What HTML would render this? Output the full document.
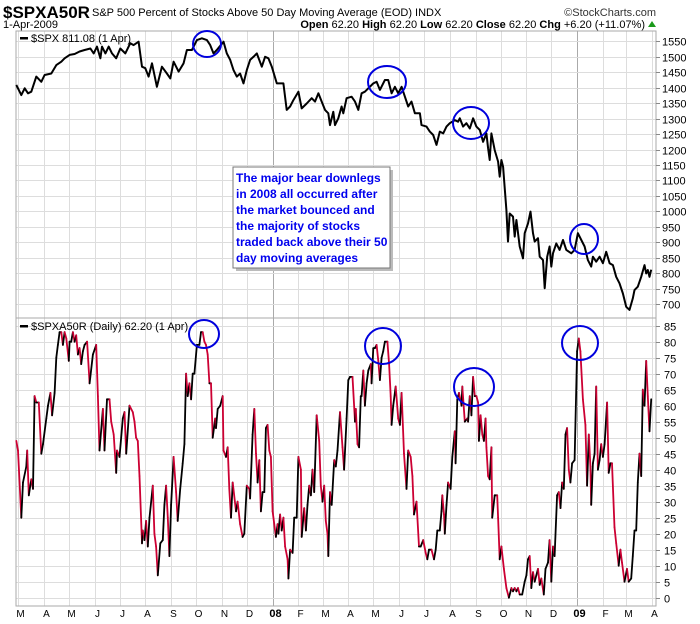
<!DOCTYPE html>
<html><head><meta charset="utf-8"><style>
body{margin:0;background:#fff;}
svg{display:block;font-family:"Liberation Sans",sans-serif;}
</style></head><body>
<svg id="chart" width="700" height="624" viewBox="0 0 700 624">
<text x="3" y="18" font-size="17" font-weight="bold">$SPXA50R</text>
<text x="92" y="16" font-size="11">S&amp;P 500 Percent of Stocks Above 50 Day Moving Average (EOD)  INDX</text>
<text x="656" y="16" font-size="11" text-anchor="end" fill="#333">©StockCharts.com</text>
<text x="3" y="28" font-size="11">1-Apr-2009</text>
<text x="645" y="28" font-size="11" text-anchor="end"><tspan font-weight="bold">Open</tspan> 62.20 <tspan font-weight="bold">High</tspan> 62.20 <tspan font-weight="bold">Low</tspan> 62.20 <tspan font-weight="bold">Close</tspan> 62.20 <tspan font-weight="bold">Chg</tspan> +6.20 (+11.07%)</text>
<polygon points="648,27 656,27 652,21" fill="#1a9a1a"/>
<g id="grid"></g>
<rect x="16" y="31" width="640" height="287" fill="none" stroke="#aaa"/>
<rect x="16" y="318" width="640" height="288" fill="none" stroke="#aaa"/>
<g id="marks"></g>
<g id="axes"></g>
<rect x="20" y="37" width="8" height="2.5" fill="#000"/>
<text x="31" y="42" font-size="11">$SPX 811.08 (1 Apr)</text>
<rect x="20" y="325" width="8" height="2.5" fill="#000"/>
<text x="31" y="330" font-size="11">$SPXA50R (Daily) 62.20 (1 Apr)</text>
<g fill="none" stroke="#0000dd" stroke-width="2">
<ellipse cx="207" cy="44" rx="14" ry="13"/>
<ellipse cx="387" cy="82" rx="19" ry="16"/>
<ellipse cx="471" cy="123" rx="18" ry="16"/>
<ellipse cx="584" cy="239" rx="14" ry="15"/>
<ellipse cx="204" cy="334" rx="15" ry="14"/>
<ellipse cx="383" cy="346" rx="18" ry="18"/>
<ellipse cx="474" cy="387" rx="20" ry="19"/>
<ellipse cx="580" cy="343" rx="18" ry="17"/>
</g>
<g>
<rect x="236" y="170" width="157" height="101" fill="#bbb"/>
<rect x="233" y="167" width="157" height="101" fill="#fff" stroke="#777"/>
<g font-size="12" font-weight="bold" fill="#0000ee">
<text x="236" y="182">The major bear downlegs</text>
<text x="236" y="198">in 2008 all occurred after</text>
<text x="236" y="214">the market bounced and</text>
<text x="236" y="230">the majority of stocks</text>
<text x="236" y="246">traded back above their 50</text>
<text x="236" y="262">day moving averages</text>
</g></g>
</svg>
<script>
const monthLabels=["M","A","M","J","J","A","S","O","N","D","08","F","M","A","M","J","J","A","S","O","N","D","09","F","M","A"];
const monthDays=[0,31,61,92,122,153,184,214,245,275,306,337,366,397,427,458,488,519,550,580,611,641,672,703,731,762];
const spxTicks=[700,750,800,850,900,950,1000,1050,1100,1150,1200,1250,1300,1350,1400,1450,1500,1550];
const a50Ticks=[0,5,10,15,20,25,30,35,40,45,50,55,60,65,70,75,80,85];
const spxDays=[-2,4,8,12,16,22,28,32,40,46,52,56,62,68,74,80,87,91,95,99,101,105,109,113,118,123,129,135,139,145,149,153,157,161,167,173,179,183,187,193,199,203,209,215,221,227,231,235,239,247,251,255,259,263,267,271,275,279,283,287,293,297,301,305,311,319,323,327,331,337,341,347,353,357,361,365,369,373,375,379,381,385,389,391,395,401,405,409,413,417,421,427,431,435,441,445,449,453,457,461,465,469,473,477,483,485,491,495,499,503,507,511,515,519,525,529,531,535,539,543,547,551,555,559,563,565,567,569,573,577,579,581,583,587,589,591,595,597,599,603,607,609,613,616,619,621,625,627,631,633,636,639,641,643,647,651,655,659,665,669,673,677,681,685,689,691,695,699,703,707,711,715,719,723,727,731,735,739,741,745,749,753,755,757,759,761];
const spxValues=[1409,1376,1398,1382,1387,1436,1419,1441,1446,1473,1484,1495,1506,1509,1517,1522,1527,1511,1533,1495,1533,1511,1533,1511,1495,1527,1511,1544,1538,1549,1468,1463,1436,1479,1403,1468,1446,1430,1484,1452,1479,1522,1522,1554,1560,1554,1538,1511,1522,1549,1511,1490,1457,1436,1446,1414,1457,1490,1500,1511,1468,1500,1495,1468,1414,1414,1328,1339,1360,1387,1333,1349,1366,1355,1382,1355,1328,1317,1279,1322,1279,1301,1339,1317,1366,1371,1355,1328,1382,1387,1398,1414,1419,1393,1425,1425,1382,1403,1382,1403,1371,1339,1355,1317,1317,1279,1274,1258,1247,1215,1258,1252,1274,1285,1295,1290,1301,1274,1285,1268,1301,1274,1263,1225,1252,1204,1166,1252,1198,1161,1112,1166,1144,1004,902,993,983,918,972,886,848,929,961,999,929,902,913,853,842,751,853,886,821,864,896,875,907,875,864,875,929,907,886,842,821,853,837,853,832,869,832,826,788,767,734,691,681,718,745,756,788,826,799,810,788,811];
const a50Days=[-2,0,4,6,10,11,13,16,18,20,22,25,28,30,34,36,39,41,44,46,48,50,52,54,56,58,61,62,64,66,68,70,72,74,76,78,80,83,86,90,94,96,98,102,104,107,110,112,115,118,119,122,126,128,130,134,138,140,142,144,146,149,150,152,154,156,158,162,164,166,168,171,174,176,178,180,182,184,187,190,192,195,198,200,202,204,206,208,210,212,215,218,220,222,224,226,228,230,232,234,237,238,240,243,246,247,250,252,254,256,258,262,264,267,270,272,275,278,279,282,284,286,288,290,292,294,296,298,300,302,304,306,310,312,313,315,317,319,321,324,325,327,330,332,335,337,340,341,344,346,348,350,352,354,356,359,362,364,366,368,370,372,373,375,377,380,382,384,387,390,392,395,397,399,402,405,406,408,410,412,413,415,417,419,421,424,425,427,429,431,433,435,437,439,441,444,446,448,449,451,454,457,459,461,464,467,469,472,474,476,479,482,484,487,490,492,494,497,500,502,504,507,509,510,512,513,515,517,520,522,525,526,528,530,533,534,537,540,541,543,545,547,549,551,553,554,556,558,560,562,563,565,567,569,570,573,576,577,579,581,584,587,590,593,595,597,599,601,603,606,609,611,613,615,617,619,621,623,625,627,629,632,634,637,639,641,643,645,648,650,652,654,656,658,660,662,664,666,669,672,674,676,679,682,684,686,688,689,691,693,695,697,699,701,703,705,708,710,712,714,717,719,722,724,726,729,732,734,737,739,741,743,745,747,749,751,753,755,757,759,761];
const a50Values=[49,46,25,36,41,46,32,37,34,63,61,61,45,48,56,60,64,57,64,75,79,83,83,79,83,81,74,80,80,83,80,82,76,78,73,77,79,80,67,76,79,63,46,59,46,62,62,55,51,39,46,44,56,58,45,60,58,55,50,49,38,17,21,18,24,16,25,35,20,16,7,17,18,29,35,25,13,29,44,33,24,34,42,48,70,63,67,62,70,70,79,79,83,83,80,79,76,67,67,50,56,53,59,60,63,46,44,47,34,25,36,27,30,23,19,20,35,34,31,51,59,45,36,43,27,33,33,53,54,46,44,27,19,23,20,26,21,25,16,12,6,15,14,25,25,44,40,19,28,21,29,35,32,40,33,57,49,35,30,35,24,20,13,33,29,43,41,46,58,47,40,56,68,69,69,55,59,48,47,63,63,71,60,67,71,73,67,78,78,79,74,68,75,77,80,80,73,63,54,60,66,56,54,64,45,34,46,44,38,26,30,16,16,18,14,12,15,15,12,15,21,21,27,32,26,20,29,36,34,44,52,42,62,64,60,66,55,56,55,63,57,69,63,63,61,49,57,51,49,56,47,38,37,47,25,32,32,25,12,16,9,3,0,3,2,3,2,3,1,1,5,7,12,13,3,8,5,7,9,4,6,1,9,11,18,5,16,13,32,33,28,36,34,51,53,40,36,42,43,77,81,77,62,54,35,51,41,29,42,45,66,40,43,48,44,48,61,39,42,42,22,17,10,15,11,5,9,5,6,13,21,21,36,45,38,65,60,74,63,52,62];

const NS="http://www.w3.org/2000/svg";
const xS=d=>18+d*0.832;
const yTop=v=>304-(v-700)*0.309;
const yBot=v=>597.7-v*3.2;
function mk(tag,attrs,parent){const e=document.createElementNS(NS,tag);for(const k in attrs)e.setAttribute(k,attrs[k]);parent.appendChild(e);return e;}
const grid=document.getElementById('grid'),marks=document.getElementById('marks'),axes=document.getElementById('axes');
monthDays.forEach((d,i)=>{
  const x=Math.round(xS(d))+0.5;const yr=monthLabels[i].length===2;
  const l=mk('line',{x1:x,x2:x,y1:31,y2:606,stroke:yr?'#aaa':'#ddd'},grid);
  
  
  const t=mk('text',{x:x+2,y:617,'font-size':yr?11:10,'font-weight':yr?'bold':'normal','text-anchor':'middle'},axes);
  t.textContent=monthLabels[i];
  
  
});
spxTicks.forEach(v=>{
  const y=Math.round(yTop(v))+0.5;
  const l=mk('line',{x1:16,x2:656,y1:y,y2:y,stroke:'#ddd'},grid);
  
  
  mk('line',{x1:656,x2:660,y1:y,y2:y,stroke:'#888'},axes);
  const t=mk('text',{x:662,y:y+4,'font-size':11},axes);
  t.textContent=v;
  
  
});
a50Ticks.forEach(v=>{
  const y=Math.round(yBot(v))+0.5;
  const l=mk('line',{x1:16,x2:656,y1:y,y2:y,stroke:'#ddd'},grid);
  
  
  mk('line',{x1:656,x2:660,y1:y,y2:y,stroke:'#888'},axes);
  const t=mk('text',{x:664,y:y+4,'font-size':11},axes);
  t.textContent=v;
  
  
});
const spxPath=mk('polyline',{points:spxDays.map((d,i)=>xS(d).toFixed(1)+','+yTop(spxValues[i]).toFixed(1)).join(' '),fill:'none',stroke:'#000','stroke-width':2,'stroke-linejoin':'round'},marks);


for(let i=0;i<a50Values.length-1;i++){
  const up=a50Values[i+1]>=a50Values[i];
  const s=mk('line',{x1:xS(a50Days[i]).toFixed(1),y1:yBot(a50Values[i]).toFixed(1),x2:xS(a50Days[i+1]).toFixed(1),y2:yBot(a50Values[i+1]).toFixed(1),stroke:up?'#000':'#cc0033','stroke-width':1.8,'stroke-linecap':'round'},marks);
  
  
}
</script>
</body></html>
